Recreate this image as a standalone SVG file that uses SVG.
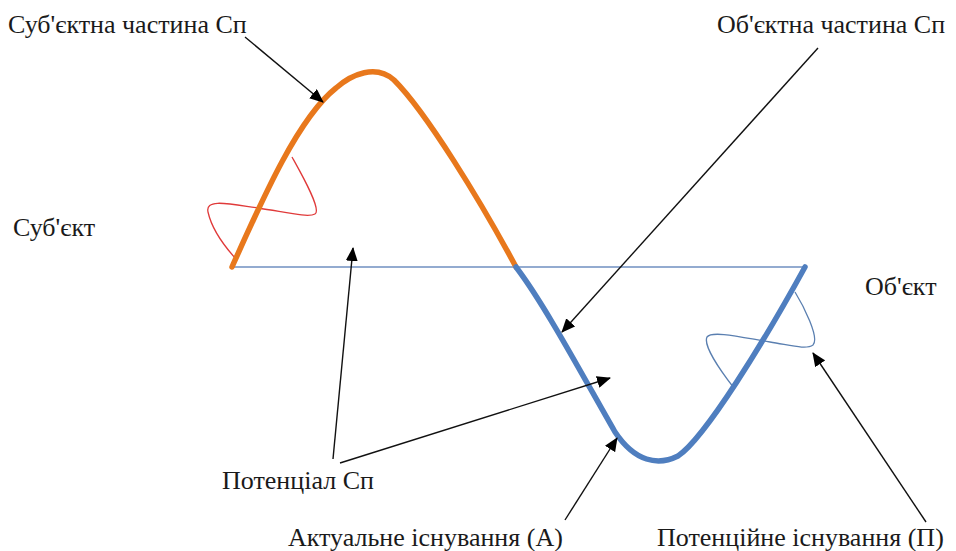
<svg xmlns="http://www.w3.org/2000/svg" width="956" height="551" viewBox="0 0 956 551">
<defs>
<marker id="ah" markerUnits="userSpaceOnUse" markerWidth="14" markerHeight="12" refX="13" refY="6" orient="auto">
<path d="M0,0 L14,6 L0,12 Z" fill="#000"/>
</marker>
<style>
.lbl{font-family:"Liberation Serif","Times New Roman",serif;font-size:26px;fill:#1a1a1a}
.arr{stroke:#111;stroke-width:1.4;fill:none;marker-end:url(#ah)}
</style>
</defs>
<rect width="956" height="551" fill="#fff"/>
<g id="axis"><line x1="232" y1="267" x2="805" y2="267" stroke="#6f8fc0" stroke-width="1.6"/></g>
<g id="red-wiggle"><path d="M292,157 C302,175 322,210 315,214 C308,218 285,212 258,208 C230,204 205,198 208,212 C212,230 226,248 236,259" fill="none" stroke="#e03a3a" stroke-width="1.3"/></g>
<g id="blue-wiggle"><path d="M795,292 C803,305 820,338 813,345 C806,350 790,345 770,342 C745,338 712,330 707,337 C703,345 720,370 734,388" fill="none" stroke="#5a7fb0" stroke-width="1.3"/></g>
<g id="orange-curve"><path d="M232,267 C262,200 298,118 336,88 C352,74 376,64 394,80 C426,112 480,200 516,267" fill="none" stroke="#e8781c" stroke-width="5.5" stroke-linecap="round"/></g>
<g id="blue-curve"><path d="M516,267 C545,305 585,380 615,432 C635,462 658,466 678,456 C705,438 765,340 805,267" fill="none" stroke="#4f7ebf" stroke-width="5.5" stroke-linecap="round"/></g>
<g id="connectors">
<line class="arr" x1="245" y1="37" x2="323" y2="102"/>
<line class="arr" x1="818" y1="48" x2="562" y2="332"/>
<line class="arr" x1="333" y1="459" x2="353" y2="248"/>
<line class="arr" x1="340" y1="463" x2="610" y2="378"/>
<line class="arr" x1="565" y1="520" x2="617" y2="438"/>
<line class="arr" x1="926" y1="522" x2="813" y2="353"/>
</g>
<g id="label-subj-part"><text class="lbl" x="8" y="33">Суб'єктна частина Сп</text></g>
<g id="label-obj-part"><text class="lbl" x="717" y="33">Об'єктна частина Сп</text></g>
<g id="label-subj"><text class="lbl" x="13" y="236">Суб'єкт</text></g>
<g id="label-obj"><text class="lbl" x="865" y="295">Об'єкт</text></g>
<g id="label-potential"><text class="lbl" x="222" y="489">Потенціал Сп</text></g>
<g id="label-actual"><text class="lbl" x="288" y="546">Актуальне існування (А)</text></g>
<g id="label-potential-exist"><text class="lbl" x="657" y="546">Потенційне існування (П)</text></g>
</svg>
